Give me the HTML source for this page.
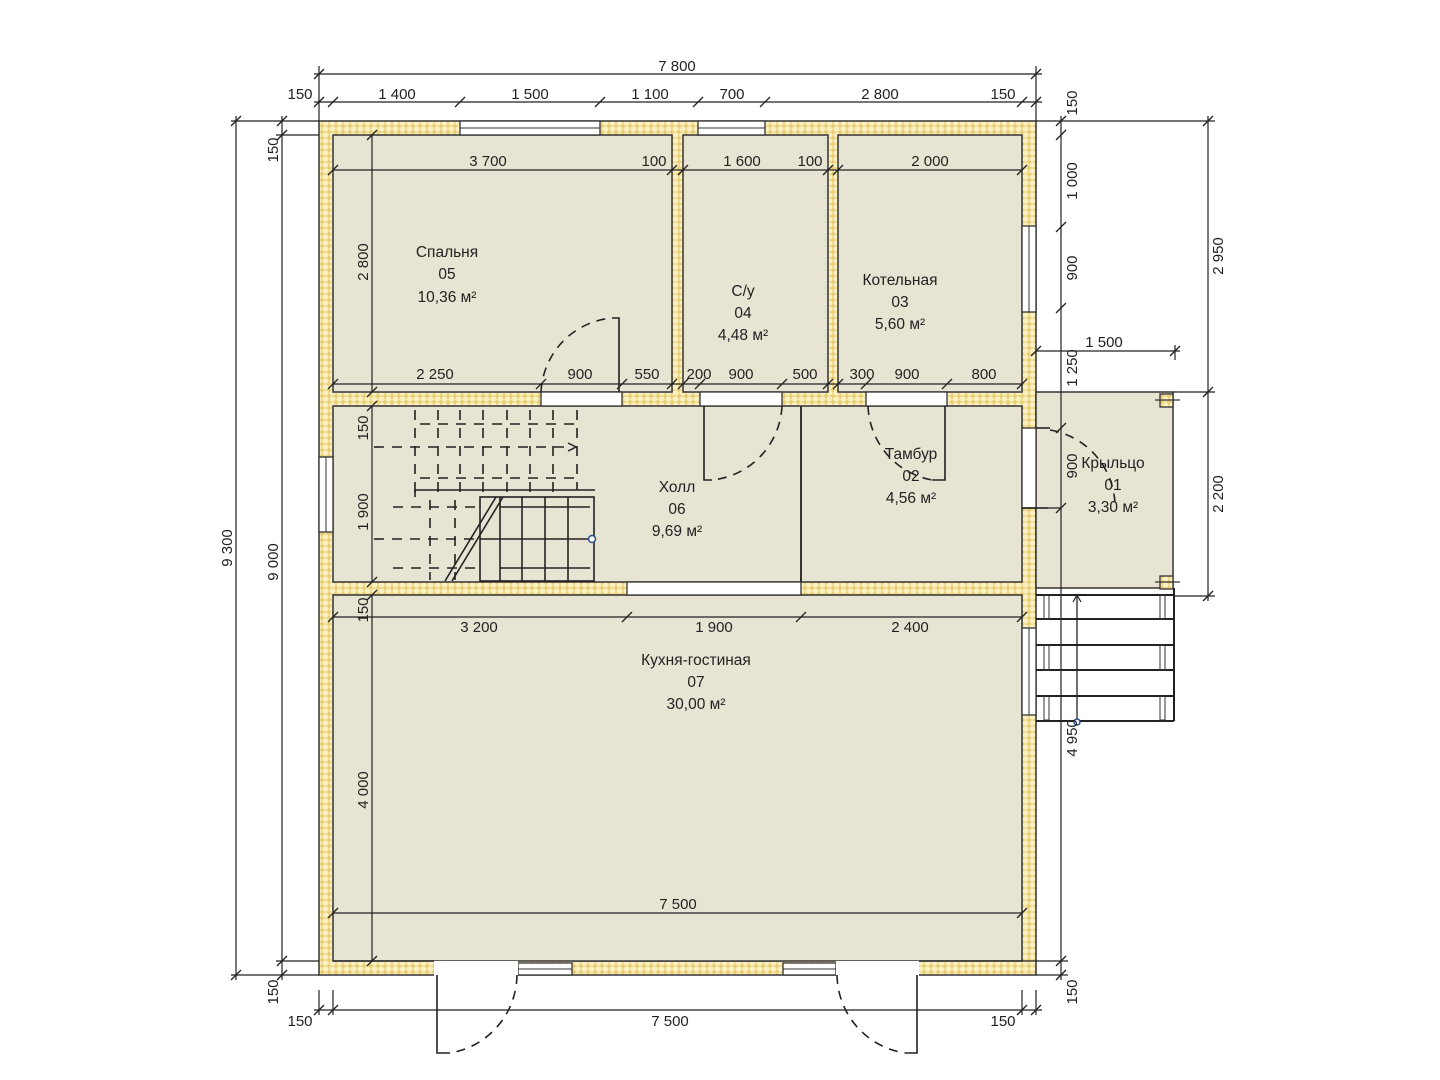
<!DOCTYPE html>
<html><head><meta charset="utf-8">
<style>
html,body{margin:0;padding:0;background:#fff;}
svg{display:block;}
text{font-family:"Liberation Sans","DejaVu Sans",sans-serif;fill:#222;}
.d{font-size:15px;}
.r{font-size:15.5px;text-anchor:middle;}
</style></head><body>
<svg width="1440" height="1080" viewBox="0 0 1440 1080" xmlns="http://www.w3.org/2000/svg">
<defs>
<pattern id="ins" width="7" height="6" patternUnits="userSpaceOnUse">
<rect width="7" height="6" fill="#e9cf78"/>
<ellipse cx="3.5" cy="3" rx="3" ry="2.6" fill="#fbf0c0"/>
</pattern>
<g id="tk"><line x1="-5" y1="5" x2="5" y2="-5" stroke="#222" stroke-width="1.3"/></g>
</defs>

<!-- walls -->
<rect x="319" y="121" width="717" height="854" fill="url(#ins)" stroke="#333" stroke-width="1.5"/>
<!-- rooms -->
<g fill="#e8e4d3" stroke="#333" stroke-width="1.5">
<rect x="333" y="135" width="339" height="257"/>
<rect x="683" y="135" width="145" height="257"/>
<rect x="838" y="135" width="184" height="257"/>
<rect x="333" y="406" width="689" height="176"/>
<rect x="333" y="595" width="689" height="366"/>
<rect x="1036" y="392" width="137" height="196"/>
</g>
<line x1="801" y1="406" x2="801" y2="582" stroke="#333" stroke-width="2"/>

<!-- openings -->
<g fill="#fff" stroke="#333" stroke-width="1.3">
<rect x="460" y="121" width="140" height="14"/>
<rect x="698" y="121" width="67" height="14"/>
<rect x="1022" y="226" width="14" height="86"/>
<rect x="1022" y="428" width="14" height="80"/>
<rect x="1022" y="628" width="14" height="87"/>
<rect x="319" y="457" width="14" height="75"/>
<rect x="541" y="392" width="81" height="14"/>
<rect x="700" y="392" width="82" height="14"/>
<rect x="866" y="392" width="81" height="14"/>
<rect x="627" y="582" width="174" height="13"/>
<rect x="518" y="963" width="54" height="12"/>
<rect x="783" y="963" width="53" height="12"/>
</g>
<g fill="#fff"><rect x="434" y="961" width="84" height="16"/><rect x="836" y="961" width="83" height="16"/><rect x="572" y="960" width="211" height="1" /></g>
<g stroke="#333" stroke-width="1"><line x1="460" y1="128" x2="600" y2="128"/><line x1="698" y1="128" x2="765" y2="128"/><line x1="1029" y1="226" x2="1029" y2="312"/><line x1="1029" y1="628" x2="1029" y2="715"/><line x1="326" y1="457" x2="326" y2="532"/><line x1="518" y1="969" x2="572" y2="969"/><line x1="783" y1="969" x2="836" y2="969"/></g>
<line x1="333" y1="961" x2="434" y2="961" stroke="#333" stroke-width="1.5"/>
<line x1="919" y1="961" x2="1022" y2="961" stroke="#333" stroke-width="1.5"/>
<line x1="572" y1="961" x2="783" y2="961" stroke="#333" stroke-width="1.5"/>

<!-- doors -->
<g fill="none" stroke="#222" stroke-width="1.6">
<polyline points="612,318 619,318 619,392"/>
<polyline points="712,480 704,480 704,406"/>
<polyline points="932,480 945,480 945,406"/>
<polyline points="1022,508 1048,508"/>
<polyline points="1036,428 1050,428"/>
<polyline points="437,975 437,1053 450,1053"/>
<polyline points="917,975 917,1053 905,1053"/>
</g>
<g fill="none" stroke="#222" stroke-width="1.6" stroke-dasharray="9,7">
<path d="M541,392 A78,78 0 0 1 612,318"/>
<path d="M782,406 A78,78 0 0 1 712,480"/>
<path d="M868,406 A78,78 0 0 0 932,480"/>
<path d="M1050,430 A78,78 0 0 1 1115,505"/>
<path d="M517,975 A80,80 0 0 1 450,1053"/>
<path d="M837,975 A80,80 0 0 0 905,1053"/>
</g>

<!-- stairs -->
<g stroke="#222" stroke-width="1.6" fill="none">
<g stroke-dasharray="10,8">
<line x1="415" y1="410" x2="415" y2="495"/><line x1="438" y1="410" x2="438" y2="495"/>
<line x1="460" y1="410" x2="460" y2="495"/><line x1="483" y1="410" x2="483" y2="495"/>
<line x1="507" y1="410" x2="507" y2="495"/><line x1="530" y1="410" x2="530" y2="495"/>
<line x1="553" y1="410" x2="553" y2="495"/><line x1="577" y1="410" x2="577" y2="490"/>
<line x1="374" y1="447" x2="570" y2="447"/>
<line x1="374" y1="539" x2="478" y2="539"/>
<line x1="430" y1="500" x2="430" y2="580"/><line x1="455" y1="500" x2="455" y2="580"/>
<line x1="393" y1="507" x2="480" y2="507"/>
<line x1="393" y1="568" x2="480" y2="568"/>
<line x1="420" y1="424" x2="580" y2="424"/>
<line x1="420" y1="478" x2="580" y2="478"/>
</g>
<polyline points="415,497 415,490 595,490"/>
<rect x="480" y="497" width="114" height="84"/>
<line x1="500" y1="497" x2="500" y2="581"/><line x1="522" y1="497" x2="522" y2="581"/>
<line x1="545" y1="497" x2="545" y2="581"/><line x1="568" y1="497" x2="568" y2="581"/>
<line x1="480" y1="539" x2="592" y2="539"/>
<line x1="496" y1="497" x2="445" y2="581"/><line x1="503" y1="497" x2="452" y2="581"/>
<line x1="500" y1="507" x2="590" y2="507"/><line x1="500" y1="568" x2="590" y2="568"/>
</g>
<circle cx="592" cy="539" r="3.5" fill="#fff" stroke="#2a4d8a" stroke-width="1.5"/>
<path d="M568,443 L576,447 L568,451" fill="none" stroke="#222" stroke-width="1.5"/>

<!-- porch posts and steps -->
<g stroke="#333" stroke-width="1.3">
<rect x="1160" y="394" width="13" height="13" fill="url(#ins)"/>
<rect x="1160" y="576" width="13" height="13" fill="url(#ins)"/>
<line x1="1155" y1="400" x2="1180" y2="400"/><line x1="1155" y1="582" x2="1180" y2="582"/>
</g>
<g stroke="#222" stroke-width="2" fill="none">
<line x1="1036" y1="595" x2="1174" y2="595"/>
<line x1="1036" y1="619" x2="1174" y2="619"/>
<line x1="1036" y1="645" x2="1174" y2="645"/>
<line x1="1036" y1="670" x2="1174" y2="670"/>
<line x1="1036" y1="696" x2="1174" y2="696"/>
<line x1="1036" y1="721" x2="1174" y2="721"/>
<line x1="1174" y1="588" x2="1174" y2="721"/>
</g>
<g stroke="#333" stroke-width="1" fill="none">
<rect x="1044" y="595" width="5" height="24"/><rect x="1044" y="645" width="5" height="25"/><rect x="1044" y="696" width="5" height="24"/>
<rect x="1160" y="595" width="5" height="24"/><rect x="1160" y="645" width="5" height="25"/><rect x="1160" y="696" width="5" height="24"/>
</g>
<line x1="1077" y1="596" x2="1077" y2="721" stroke="#222" stroke-width="1.3"/>
<path d="M1073,602 L1077,595 L1081,602" fill="none" stroke="#222" stroke-width="1.2"/>
<circle cx="1077" cy="722" r="3" fill="#fff" stroke="#2a4d8a" stroke-width="1.5"/>

<!-- dimension lines -->
<g stroke="#222" stroke-width="1.2">
<line x1="314" y1="74" x2="1042" y2="74"/>
<line x1="314" y1="102" x2="1042" y2="102"/>
<line x1="319" y1="66" x2="319" y2="121"/><line x1="1036" y1="66" x2="1036" y2="121"/>
<line x1="231" y1="121" x2="319" y2="121"/><line x1="231" y1="975" x2="319" y2="975"/>
<line x1="276" y1="135" x2="319" y2="135"/><line x1="276" y1="961" x2="319" y2="961"/>
<line x1="236" y1="116" x2="236" y2="980"/>
<line x1="282" y1="116" x2="282" y2="980"/>
<line x1="1036" y1="121" x2="1215" y2="121"/>
<line x1="1061" y1="116" x2="1061" y2="980"/>
<line x1="1208" y1="116" x2="1208" y2="601"/>
<line x1="1173" y1="392" x2="1215" y2="392"/><line x1="1174" y1="596" x2="1215" y2="596"/>
<line x1="1036" y1="351" x2="1180" y2="351"/><line x1="1175" y1="345" x2="1175" y2="360"/>
<line x1="1036" y1="975" x2="1068" y2="975"/><line x1="1022" y1="961" x2="1068" y2="961"/>
<line x1="314" y1="1010" x2="1042" y2="1010"/>
<line x1="319" y1="990" x2="319" y2="1015"/><line x1="333" y1="990" x2="333" y2="1015"/>
<line x1="1022" y1="990" x2="1022" y2="1015"/><line x1="1036" y1="990" x2="1036" y2="1015"/>
<line x1="333" y1="170" x2="1022" y2="170"/>
<line x1="333" y1="384" x2="1022" y2="384"/>
<line x1="333" y1="617" x2="1022" y2="617"/>
<line x1="333" y1="913" x2="1022" y2="913"/>
<line x1="372" y1="135" x2="372" y2="392"/>
<line x1="372" y1="406" x2="372" y2="582"/>
<line x1="372" y1="595" x2="372" y2="961"/>
<line x1="1022" y1="508" x2="1061" y2="508"/>
</g>
<g>
<use href="#tk" x="319" y="74"/><use href="#tk" x="1036" y="74"/>
<use href="#tk" x="319" y="102"/><use href="#tk" x="333" y="102"/><use href="#tk" x="460" y="102"/><use href="#tk" x="600" y="102"/><use href="#tk" x="698" y="102"/><use href="#tk" x="765" y="102"/><use href="#tk" x="1022" y="102"/><use href="#tk" x="1036" y="102"/>
<use href="#tk" x="236" y="121"/><use href="#tk" x="236" y="975"/>
<use href="#tk" x="282" y="121"/><use href="#tk" x="282" y="135"/><use href="#tk" x="282" y="961"/><use href="#tk" x="282" y="975"/>
<use href="#tk" x="1061" y="121"/><use href="#tk" x="1061" y="135"/><use href="#tk" x="1061" y="227"/><use href="#tk" x="1061" y="308"/><use href="#tk" x="1061" y="428"/><use href="#tk" x="1061" y="508"/><use href="#tk" x="1061" y="961"/><use href="#tk" x="1061" y="975"/>
<use href="#tk" x="1208" y="121"/><use href="#tk" x="1208" y="392"/><use href="#tk" x="1208" y="596"/>
<use href="#tk" x="1036" y="351"/><use href="#tk" x="1175" y="351"/>
<use href="#tk" x="319" y="1010"/><use href="#tk" x="333" y="1010"/><use href="#tk" x="1022" y="1010"/><use href="#tk" x="1036" y="1010"/>
<use href="#tk" x="333" y="170"/><use href="#tk" x="672" y="170"/><use href="#tk" x="683" y="170"/><use href="#tk" x="828" y="170"/><use href="#tk" x="838" y="170"/><use href="#tk" x="1022" y="170"/>
<use href="#tk" x="333" y="384"/><use href="#tk" x="541" y="384"/><use href="#tk" x="622" y="384"/><use href="#tk" x="672" y="384"/><use href="#tk" x="683" y="384"/><use href="#tk" x="700" y="384"/><use href="#tk" x="782" y="384"/><use href="#tk" x="828" y="384"/><use href="#tk" x="838" y="384"/><use href="#tk" x="866" y="384"/><use href="#tk" x="947" y="384"/><use href="#tk" x="1022" y="384"/>
<use href="#tk" x="333" y="617"/><use href="#tk" x="627" y="617"/><use href="#tk" x="801" y="617"/><use href="#tk" x="1022" y="617"/>
<use href="#tk" x="333" y="913"/><use href="#tk" x="1022" y="913"/>
<use href="#tk" x="372" y="135"/><use href="#tk" x="372" y="392"/><use href="#tk" x="372" y="406"/><use href="#tk" x="372" y="582"/><use href="#tk" x="372" y="595"/><use href="#tk" x="372" y="961"/>
</g>

<!-- dimension text -->
<g class="d">
<text x="677" y="71" text-anchor="middle">7 800</text>
<text x="300" y="99" text-anchor="middle">150</text>
<text x="397" y="99" text-anchor="middle">1 400</text>
<text x="530" y="99" text-anchor="middle">1 500</text>
<text x="650" y="99" text-anchor="middle">1 100</text>
<text x="732" y="99" text-anchor="middle">700</text>
<text x="880" y="99" text-anchor="middle">2 800</text>
<text x="1003" y="99" text-anchor="middle">150</text>
<text x="488" y="166" text-anchor="middle">3 700</text>
<text x="654" y="166" text-anchor="middle">100</text>
<text x="742" y="166" text-anchor="middle">1 600</text>
<text x="810" y="166" text-anchor="middle">100</text>
<text x="930" y="166" text-anchor="middle">2 000</text>
<text x="435" y="379" text-anchor="middle">2 250</text>
<text x="580" y="379" text-anchor="middle">900</text>
<text x="647" y="379" text-anchor="middle">550</text>
<text x="699" y="379" text-anchor="middle">200</text>
<text x="741" y="379" text-anchor="middle">900</text>
<text x="805" y="379" text-anchor="middle">500</text>
<text x="862" y="379" text-anchor="middle">300</text>
<text x="907" y="379" text-anchor="middle">900</text>
<text x="984" y="379" text-anchor="middle">800</text>
<text x="479" y="632" text-anchor="middle">3 200</text>
<text x="714" y="632" text-anchor="middle">1 900</text>
<text x="910" y="632" text-anchor="middle">2 400</text>
<text x="678" y="909" text-anchor="middle">7 500</text>
<text x="1104" y="347" text-anchor="middle">1 500</text>
<text x="300" y="1026" text-anchor="middle">150</text>
<text x="670" y="1026" text-anchor="middle">7 500</text>
<text x="1003" y="1026" text-anchor="middle">150</text>
<text transform="translate(368,262) rotate(-90)" text-anchor="middle">2 800</text>
<text transform="translate(368,428) rotate(-90)" text-anchor="middle">150</text>
<text transform="translate(368,512) rotate(-90)" text-anchor="middle">1 900</text>
<text transform="translate(368,610) rotate(-90)" text-anchor="middle">150</text>
<text transform="translate(368,790) rotate(-90)" text-anchor="middle">4 000</text>
<text transform="translate(232,548) rotate(-90)" text-anchor="middle">9 300</text>
<text transform="translate(278,562) rotate(-90)" text-anchor="middle">9 000</text>
<text transform="translate(278,150) rotate(-90)" text-anchor="middle">150</text>
<text transform="translate(278,992) rotate(-90)" text-anchor="middle">150</text>
<text transform="translate(1077,103) rotate(-90)" text-anchor="middle">150</text>
<text transform="translate(1077,181) rotate(-90)" text-anchor="middle">1 000</text>
<text transform="translate(1077,268) rotate(-90)" text-anchor="middle">900</text>
<text transform="translate(1077,368) rotate(-90)" text-anchor="middle">1 250</text>
<text transform="translate(1077,466) rotate(-90)" text-anchor="middle">900</text>
<text transform="translate(1077,738) rotate(-90)" text-anchor="middle">4 950</text>
<text transform="translate(1077,992) rotate(-90)" text-anchor="middle">150</text>
<text transform="translate(1223,256) rotate(-90)" text-anchor="middle">2 950</text>
<text transform="translate(1223,494) rotate(-90)" text-anchor="middle">2 200</text>
</g>

<!-- room labels -->
<g class="r">
<text x="447" y="257">Спальня</text><text x="447" y="279">05</text><text x="447" y="302">10,36 м²</text>
<text x="743" y="296">С/у</text><text x="743" y="318">04</text><text x="743" y="340">4,48 м²</text>
<text x="900" y="285">Котельная</text><text x="900" y="307">03</text><text x="900" y="329">5,60 м²</text>
<text x="677" y="492">Холл</text><text x="677" y="514">06</text><text x="677" y="536">9,69 м²</text>
<text x="911" y="459">Тамбур</text><text x="911" y="481">02</text><text x="911" y="503">4,56 м²</text>
<text x="1113" y="468">Крыльцо</text><text x="1113" y="490">01</text><text x="1113" y="512">3,30 м²</text>
<text x="696" y="665">Кухня-гостиная</text><text x="696" y="687">07</text><text x="696" y="709">30,00 м²</text>
</g>
</svg>
</body></html>
